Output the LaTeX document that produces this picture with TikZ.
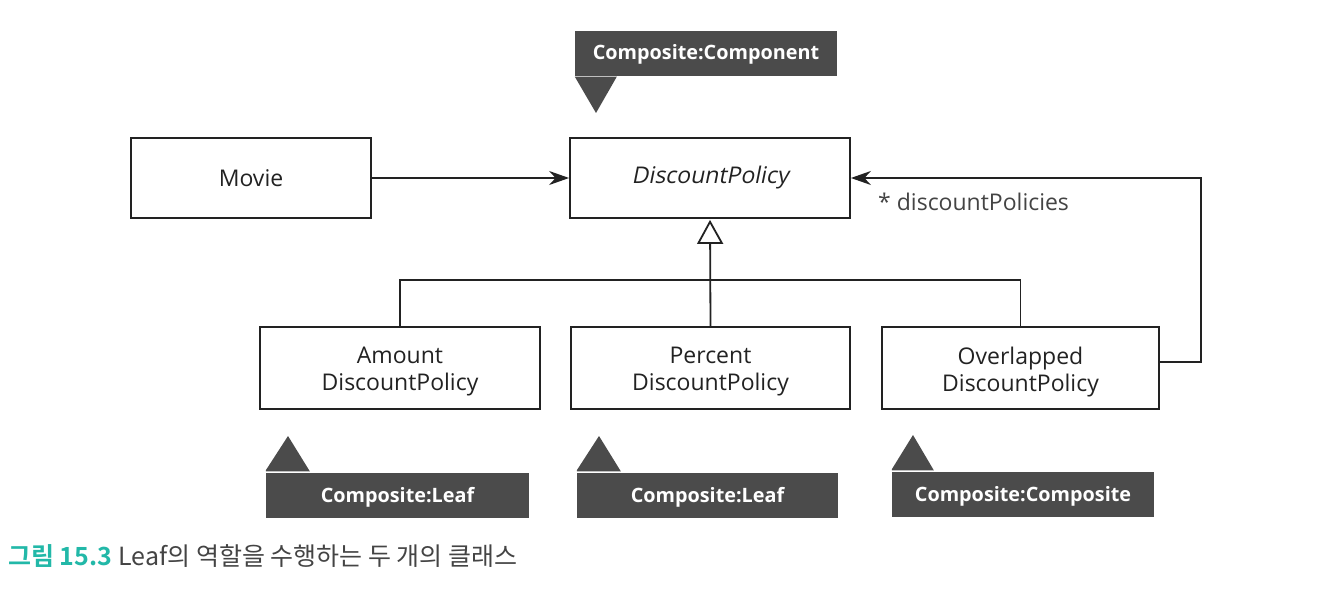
\documentclass[tikz,border=0pt]{standalone}
\usepackage{fontspec}
\setmainfont{Open Sans}
\newfontfamily\slantfont{Open Sans}[FakeSlant=0.2]
\newfontfamily\krfont{Noto Sans CJK KR}[BoldFont={Noto Sans CJK KR Bold}]
\usetikzlibrary{arrows.meta}
\definecolor{callgray}{HTML}{4B4B4B}
\definecolor{capteal}{HTML}{22B8A8}
\definecolor{captext}{HTML}{444444}
\definecolor{linec}{HTML}{222222}
\tikzset{
  classbox/.style={draw=linec, line width=1.8pt, fill=white, minimum height=80pt, align=center, inner sep=0pt, font=\fontsize{23}{27}\selectfont, text=linec},
  boxtext/.style={align=center, inner sep=0pt, font=\fontsize{23}{27}\selectfont, text=linec},
  callbox/.style={fill=callgray, text=white, inner sep=0pt, minimum height=45pt, font=\fontsize{19.8}{22}\selectfont\bfseries},
  conn/.style={draw=linec, line width=1.8pt},
}
\begin{document}
\begin{tikzpicture}[x=1pt,y=-1pt]
\useasboundingbox[fill=white] (0,0) rectangle (1334,596);
% classes
\node[classbox, minimum width=240pt] (movie) at (251,178) {Movie};
\node[classbox, minimum width=280pt] (dp) at (710,178) {\slantfont DiscountPolicy};
\node[classbox, minimum width=280pt, minimum height=82pt] (amount) at (400,368) {};
\node[classbox, minimum width=279pt, minimum height=82pt] (percent) at (710.5,368) {};
\node[classbox, minimum width=277pt, minimum height=82pt] (over) at (1020.5,368) {};
\node[boxtext] (amountt) at (400,372) {Amount\\DiscountPolicy};
\node[boxtext] (percentt) at (710.5,372) {Percent\\DiscountPolicy};
\node[boxtext] (overt) at (1020.5,372) {Overlapped\\DiscountPolicy};
% connectors
\coordinate (jn) at (710,280);
\draw[conn] (amount.north) |- (jn) -| (over.north);
\draw[conn, -{Triangle[open, length=24pt, width=26pt, line width=1.8pt]}, shorten >=1pt] (percent.north) -- (dp.south);
\draw[conn, -{Stealth[length=20pt, width=14pt]}] (movie.east) -- (dp.west);
\draw[conn, -{Stealth[length=20pt, width=14pt]}] ([yshift=6pt]over.east) -- ++(41,0) |- (dp.east);
\node[anchor=west, font=\fontsize{23}{26}\selectfont, text=captext, inner sep=0pt] (lbl) at (878,202) {* discountPolicies};
% callouts
\node[callbox, minimum width=262pt] (cc) at (706,54) {Composite:Component};
\fill[callgray] (cc.south west) -- ++(42,0) -- (596,113) -- cycle;
\node[callbox, minimum width=263pt, text depth=-2pt] (leaf1) at (397.5,495) {Composite:Leaf};
\fill[callgray] ([yshift=1pt]leaf1.north west) -- ++(44,0) -- (288,436) -- ++(-22,34) -- cycle;
\node[callbox, minimum width=261pt, text depth=-2pt] (leaf2) at (707.5,495) {Composite:Leaf};
\fill[callgray] ([yshift=1pt]leaf2.north west) -- ++(44,0) -- (599,436) -- ++(-22,34) -- cycle;
\node[callbox, minimum width=262pt, text depth=-2pt] (comp) at (1023,494) {Composite:Composite};
\fill[callgray] ([yshift=1pt]comp.north west) -- ++(42,0) -- (913,435) -- ++(-21,34) -- cycle;
% caption
\node[anchor=west, inner sep=0pt, font=\krfont\fontsize{25}{28}\selectfont\bfseries, text=capteal] (capnum) at (8,556) {그림 15.3};
\node[anchor=west, inner sep=0pt, font=\krfont\fontsize{25}{28}\selectfont, text=captext] (captxt) at (capnum.east) {\hspace{6pt}Leaf의 역할을 수행하는 두 개의 클래스};
\end{tikzpicture}
\end{document}
